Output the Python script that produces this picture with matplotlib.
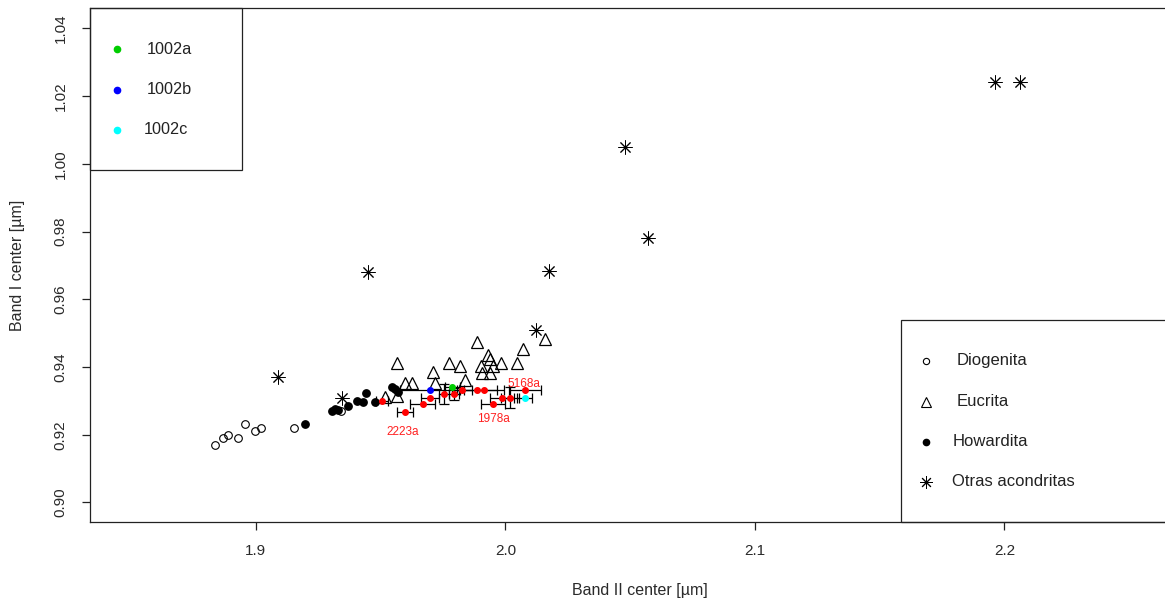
import numpy as np
import matplotlib
matplotlib.use('Agg')
import matplotlib.pyplot as plt
from matplotlib.patches import Rectangle

plt.rcParams['font.family'] = ['Liberation Sans', 'DejaVu Sans']

# Diogenitas (open circles)
dio_x = [1.8838, 1.8867, 1.8889, 1.8927, 1.8956, 1.8997, 1.9020, 1.9151, 1.9343]
dio_y = [0.9169, 0.9190, 0.9200, 0.9191, 0.9231, 0.9210, 0.9219, 0.9219, 0.9271]

# Eucritas (open triangles)
euc_x = [1.9565, 1.9774, 1.9818, 1.9886, 1.9930, 1.9938, 1.9984, 2.0046, 2.0070, 2.0158,
         1.9709, 1.9838, 1.9904, 1.9906, 1.9938, 1.9950, 1.9597, 1.9627, 1.9517, 1.9565, 1.9717]
euc_y = [0.9413, 0.9413, 0.9403, 0.9474, 0.9436, 0.9424, 0.9413, 0.9412, 0.9453, 0.9484,
         0.9385, 0.9363, 0.9403, 0.9382, 0.9382, 0.9403, 0.9353, 0.9353, 0.9313, 0.9315, 0.9353]

# Howarditas (filled circles)
how_x = [1.9196, 1.9305, 1.9317, 1.9329, 1.9369, 1.9405, 1.9429, 1.9441, 1.9477, 1.9545, 1.9557, 1.9569]
how_y = [0.9231, 0.9270, 0.9276, 0.9273, 0.9285, 0.9300, 0.9297, 0.9322, 0.9297, 0.9341, 0.9334, 0.9326]

# otras acondritas (asterisks)
otr_x = [1.9088, 1.9345, 1.9449, 2.0122, 2.0174, 2.0479, 2.0571, 2.1962, 2.2062]
otr_y = [0.9371, 0.9309, 0.9681, 0.9509, 0.9684, 1.0051, 0.9781, 1.0242, 1.0242]

# muestras medidas (red) con barras de error
red_x = [1.9506, 1.9597, 1.9668, 1.9697, 1.9755, 1.9795, 1.9827, 1.9885, 1.9915, 1.9949, 1.9985, 2.0018, 2.0078]
red_y = [0.9299, 0.9267, 0.9290, 0.9310, 0.9321, 0.9321, 0.9331, 0.9331, 0.9331, 0.9290, 0.9310, 0.9310, 0.9331]
red_xerr = [0.0025, 0.0031, 0.0050, 0.0035, 0.0020, 0.0020, 0.0040, 0.0080, 0.0080, 0.0048, 0.0048, 0.0035, 0.0064]
red_yerr = [0, 0, 0, 0, 0.0030, 0.0018, 0, 0, 0, 0, 0, 0.0032, 0]

# 1002 a, b, c
m1002_names = ['1002a', '1002b', '1002c']
m1002_colors = ['#00cd00', '#0000ff', '#00ffff']
m1002_x = [1.9787, 1.9697, 2.0078]
m1002_y = [0.9341, 0.9331, 0.9310]
m1002_xerr = [0.0030, 0.0120, 0.0030]

# etiquetas
lab_names = ['2223a', '1978a', '5168a']
lab_x = [1.9589, 1.9950, 2.0074]
lab_y = [0.9208, 0.9247, 0.9350]

W, H = 1165, 601
fig = plt.figure(figsize=(W / 100, H / 100), dpi=100)
# plot region goes a bit past the right edge of the picture
L, B, AW, AH = 90, 79, 1110, 514
ax = fig.add_axes([L / W, B / H, AW / W, AH / H])
ax.set_xlim(1.8335, 2.2784)
ax.set_ylim(0.89424, 1.04605)

for s in ax.spines.values():
    s.set_linewidth(0.9)
    s.set_color('#222222')

ax.set_xticks([1.9, 2.0, 2.1, 2.2])
ax.set_xticklabels(['1.9', '2.0', '2.1', '2.2'])
yt = np.arange(0.90, 1.041, 0.02)
ax.set_yticks(yt)
ax.set_yticklabels(['%.2f' % v for v in yt], rotation=90, va='center')
ax.tick_params(length=6, width=0.9, color='#222222', labelsize=11, labelcolor='#2a2a2a', pad=10)

ax.plot(dio_x, dio_y, 'o', ms=5.5, mfc='none', mec='black', mew=0.8, ls='none')
ax.plot(euc_x, euc_y, '^', ms=9, mfc='none', mec='black', mew=0.9, ls='none')
ax.plot(how_x, how_y, 'o', ms=5.3, mfc='black', mec='black', ls='none')
ax.plot(otr_x, otr_y, marker=(8, 2, 0), ms=10, mec='black', mew=0.7, ls='none')

rx = np.array(red_x)
ry = np.array(red_y)
ye = np.array(red_yerr)
ax.errorbar(rx, ry, xerr=red_xerr, fmt='none', ecolor='black', elinewidth=0.9, capsize=3.5, capthick=0.9)
ax.errorbar(rx[ye > 0], ry[ye > 0], yerr=ye[ye > 0], fmt='none', ecolor='black', elinewidth=0.9,
            capsize=3.5, capthick=0.9)
ax.errorbar(m1002_x, m1002_y, xerr=m1002_xerr, fmt='none', ecolor='black', elinewidth=0.9,
            capsize=3.5, capthick=0.9)
ax.plot(rx, ry, 'o', ms=4, color='red', ls='none')
for i in range(len(m1002_x)):
    ax.plot(m1002_x[i], m1002_y[i], 'o', ms=4, color=m1002_colors[i], ls='none')

for i in range(len(lab_names)):
    ax.text(lab_x[i], lab_y[i], lab_names[i], color='#ff2020', fontsize=8.5, ha='center', va='center')


def px(x, y):
    # pixel position in the picture -> axes fraction
    return (x - L) / AW, (H - B - y) / AH


# top left legend
x0, y0 = px(90, 8)
x1, y1 = px(242, 170)
ax.add_patch(Rectangle((x0, y1), x1 - x0, y0 - y1, transform=ax.transAxes, fill=False,
                       ec='#222222', lw=0.9, clip_on=False))
leg_y = [49, 89.5, 130]
leg_tx = [147, 147, 143.5]
for i in range(3):
    mx, my = px(117, leg_y[i])
    ax.plot(mx, my, 'o', ms=4.5, color=m1002_colors[i], transform=ax.transAxes, clip_on=False)
    tx, ty = px(leg_tx[i], leg_y[i])
    ax.text(tx, ty, m1002_names[i], transform=ax.transAxes, fontsize=11.7, ha='left', va='center',
            color='#222222')

# bottom right legend
x0, y0 = px(901, 320)
x1, y1 = px(1200, 522)
ax.add_patch(Rectangle((x0, y1), x1 - x0, y0 - y1, transform=ax.transAxes, fill=False,
                       ec='#222222', lw=0.9, clip_on=False))
cat_names = ['Diogenita', 'Eucrita', 'Howardita', 'Otras acondritas']
cat_y = [361, 402, 442, 482]
cat_tx = [957, 957, 952.5, 952.5]
mk = [dict(marker='o', ms=4.5, mfc='none', mec='black', mew=0.8),
      dict(marker='^', ms=7, mfc='none', mec='black', mew=0.8),
      dict(marker='o', ms=4.5, mfc='black', mec='black'),
      dict(marker=(8, 2, 0), ms=9, mec='black', mew=0.7)]
for i in range(4):
    mx, my = px(926, cat_y[i])
    ax.plot(mx, my, ls='none', transform=ax.transAxes, clip_on=False, **mk[i])
    tx, ty = px(cat_tx[i], cat_y[i])
    ax.text(tx, ty, cat_names[i], transform=ax.transAxes, fontsize=12, ha='left', va='center',
            color='#222222')

fig.text(640 / W, 1 - 590 / H, 'Band II center [µm]', ha='center', va='center', fontsize=11.5,
         color='#2a2a2a')
fig.text(18 / W, 1 - 265 / H, 'Band I center [µm]', ha='center', va='center', fontsize=11.5,
         color='#2a2a2a', rotation=90)

fig.savefig('out.png', dpi=100)
